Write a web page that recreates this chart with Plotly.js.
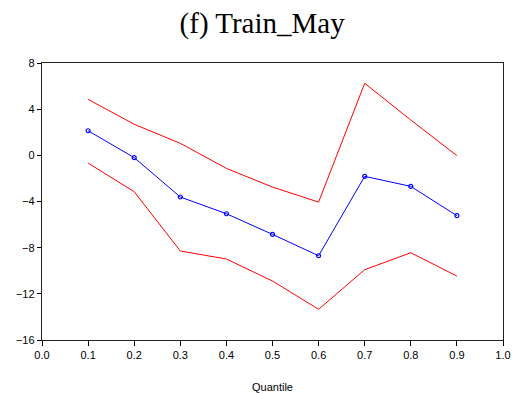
<!DOCTYPE html>
<html><head><meta charset="utf-8">
<script src="https://cdn.plot.ly/plotly-3.0.1.min.js"></script>
<style>html,body{margin:0;padding:0;background:#fff}#chart{width:515px;height:394px}</style>
</head><body><div id="chart"></div>
<script>
const quantiles = [0.1,0.2,0.3,0.4,0.5,0.6,0.7,0.8,0.9];
const estimate = [2.13,-0.2,-3.61,-5.06,-6.85,-8.7,-1.82,-2.69,-5.23];
const upperBand = [4.85,2.69,1.04,-1.13,-2.75,-4.05,6.24,3.06,-0.03];
const lowerBand = [-0.67,-3.15,-8.29,-8.98,-10.89,-13.34,-9.91,-8.44,-10.46];
const xTicks = [0,0.1,0.2,0.3,0.4,0.5,0.6,0.7,0.8,0.9,1.0];
const xTickText = ['0.0','0.1','0.2','0.3','0.4','0.5','0.6','0.7','0.8','0.9','1.0'];
const yTicks = [-16,-12,-8,-4,0,4,8];

const traces = [
  {x: quantiles, y: upperBand, mode:'lines', line:{color:'#ff0000', width:1}, hoverinfo:'skip'},
  {x: quantiles, y: lowerBand, mode:'lines', line:{color:'#ff0000', width:1}, hoverinfo:'skip'},
  {x: quantiles, y: estimate, mode:'lines+markers', line:{color:'#0000ff', width:1},
   marker:{symbol:'circle-open', size:4, color:'#0000ff', line:{width:1.2, color:'#0000ff'}}}
];
const axisFont = {family:'Liberation Sans, Arial, sans-serif', size:11, color:'#000'};
const layout = {
  width:515, height:394,
  margin:{l:42, r:12, t:63, b:54},
  paper_bgcolor:'#fff', plot_bgcolor:'#fff',
  showlegend:false,
  title:{text:'(f) Train_May', x:0.509, xanchor:'center', y:0.943, yanchor:'middle',
         font:{family:'Liberation Serif, Times New Roman, serif', size:29, color:'#000'}},
  xaxis:{range:[0,1], tickvals:xTicks, ticktext:xTickText, ticks:'outside', ticklen:5, tickwidth:1,
         tickcolor:'#000', showgrid:false, zeroline:false, showline:true, linecolor:'#222', linewidth:1.2,
         mirror:true, tickfont:axisFont,
         title:{text:'Quantile', font:axisFont, standoff:22}},
  yaxis:{range:[-16,8], tickvals:yTicks, ticks:'outside', ticklen:4, tickwidth:1, tickcolor:'#000',
         showgrid:false, zeroline:false, showline:true, linecolor:'#222', linewidth:1.2, mirror:true,
         tickfont:axisFont}
};
Plotly.newPlot('chart', traces, layout, {staticPlot:true});
</script></body></html>
